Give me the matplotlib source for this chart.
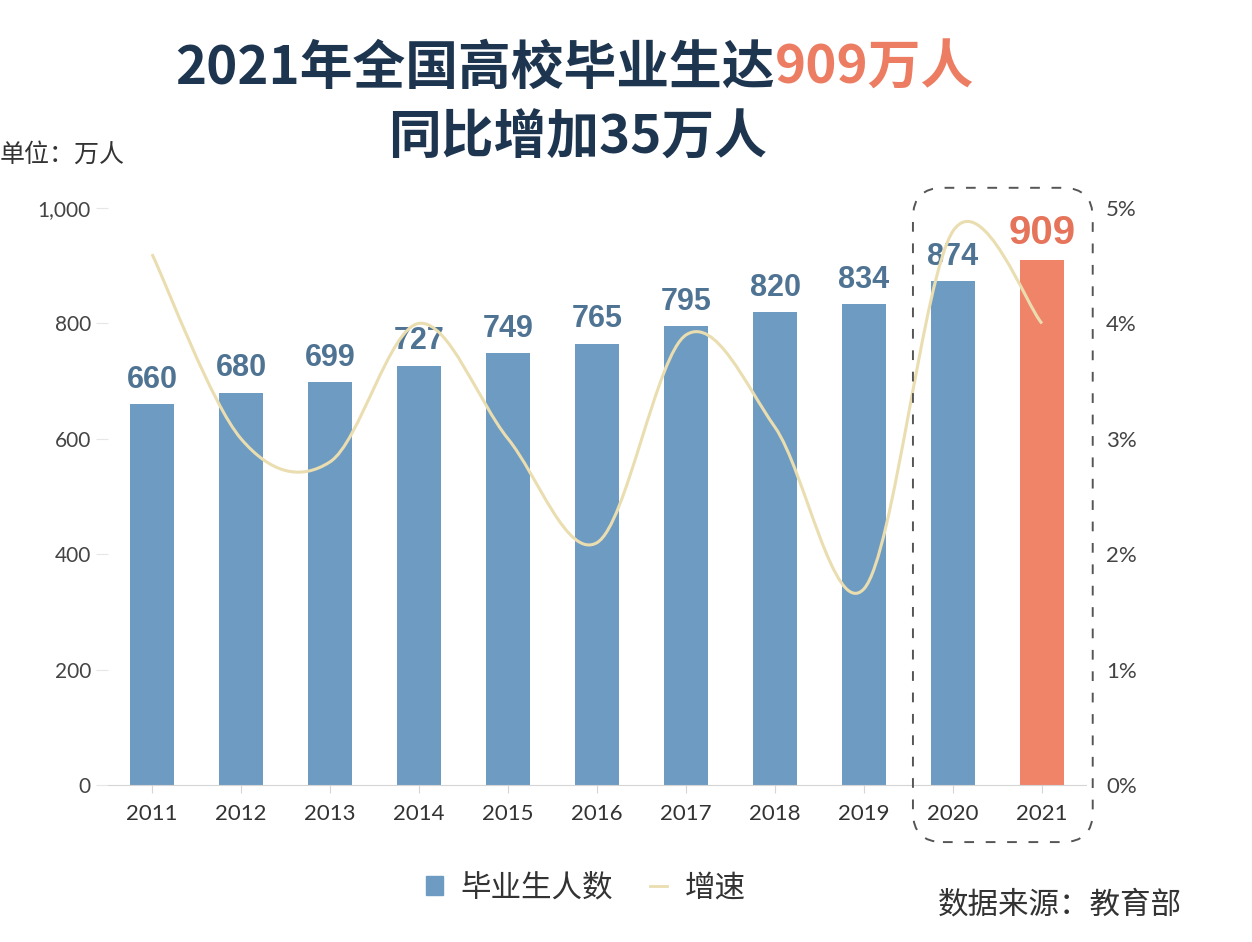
import numpy as np
import matplotlib.pyplot as plt
from matplotlib.path import Path
from matplotlib.patches import PathPatch, FancyBboxPatch, Patch
from matplotlib.lines import Line2D
from matplotlib.transforms import IdentityTransform

plt.rcParams['font.family'] = ['Noto Sans CJK SC', 'DejaVu Sans']

# data
years = ['2011', '2012', '2013', '2014', '2015', '2016', '2017', '2018', '2019', '2020', '2021']
graduates = [660, 680, 699, 727, 749, 765, 795, 820, 834, 874, 909]
growth = [4.6, 3.0, 2.8, 4.0, 3.0, 2.1, 3.9, 3.1, 1.7, 4.8, 4.0]
left_ticks = [0, 200, 400, 600, 800, 1000]
right_ticks = [0, 1, 2, 3, 4, 5]

navy = '#1E3550'
orange = '#EC7D62'
blue = '#6E9BC2'
line_col = '#EADDB0'

fig = plt.figure(figsize=(12.52, 9.42), dpi=100)
ax = fig.add_axes([0.0859, 0.1667, 0.7819, 0.6125])
x = np.arange(len(years))

colors = [blue] * (len(years) - 1) + ['#F08469']
ax.bar(x, graduates, width=0.5, color=colors, zorder=2)

for i, v in enumerate(graduates):
    if i == len(graduates) - 1:
        ax.text(i, v + 28, str(v), ha='center', va='baseline', fontsize=29,
                weight='bold', color='#E5745A', family='Liberation Sans')
    else:
        ax.text(i, v + 28, str(v), ha='center', va='baseline', fontsize=22,
                weight='bold', color='#4F7393', family='Liberation Sans')

ax.set_xlim(-0.5, 10.5)
ax.set_ylim(0, 1000)
for s in ['top', 'right', 'left']:
    ax.spines[s].set_visible(False)
ax.spines['bottom'].set_color('#D5D5D5')
ax.set_xticks(x)
ax.set_xticklabels(years, fontsize=16, family='Lato', color='#333333')
ax.tick_params(axis='x', length=6, color='#D5D5D5', pad=8)
ax.set_yticks(left_ticks)
ax.set_yticklabels(['{:,}'.format(t) for t in left_ticks], fontsize=15, family='Lato', color='#444444')
ax.tick_params(axis='y', length=9, color='#E6E6E6', pad=3)

# growth rate on the right axis, drawn as a smooth curve through the points
ax2 = ax.twinx()
ax2.set_ylim(0, 5)
for s in ['top', 'right', 'left', 'bottom']:
    ax2.spines[s].set_visible(False)
ax2.set_yticks(right_ticks)
ax2.set_yticklabels(['{}%'.format(t) for t in right_ticks], fontsize=16, family='Lato', color='#444444')
ax2.tick_params(axis='y', length=0, pad=14)

pts = np.column_stack([x, growth]).astype(float)
ext = np.vstack([pts[0], pts, pts[-1]])
verts = [tuple(pts[0])]
codes = [Path.MOVETO]
for i in range(len(pts) - 1):
    p0, p1, p2, p3 = ext[i], ext[i + 1], ext[i + 2], ext[i + 3]
    c1 = p1 + (p2 - p0) / 6.0
    c2 = p2 - (p3 - p1) / 6.0
    verts += [tuple(c1), tuple(c2), tuple(p2)]
    codes += [Path.CURVE4] * 3
ax2.add_patch(PathPatch(Path(verts, codes), facecolor='none', edgecolor=line_col, lw=2.2, zorder=3))

# titles
r = fig.canvas.get_renderer()
y1 = 1 - 68 / 942.0
t1 = fig.text(0, y1, '2021年全国高校毕业生达', fontsize=38, weight='bold', color=navy, va='center')
t2 = fig.text(0, y1, '909万人', fontsize=38, weight='bold', color=orange, va='center')
w1 = t1.get_window_extent(r).width
w2 = t2.get_window_extent(r).width
start = 575 - (w1 + w2) / 2.0
t1.set_x(start / 1252.0)
t2.set_x((start + w1) / 1252.0)
fig.text(577 / 1252.0, 1 - 138 / 942.0, '同比增加35万人', fontsize=38, weight='bold',
         color=navy, ha='center', va='center')

fig.text(0.0, 1 - 155 / 942.0, '单位：万人', fontsize=18, color='#333333', va='center')
fig.text(938 / 1252.0, 1 - 905 / 942.0, '数据来源：教育部', fontsize=22, color='#333333', va='center')

# dashed box around 2020 and 2021
fig.canvas.draw()
bx0, by0 = ax.transData.transform((8.55, -99))
bx1, by1 = ax.transData.transform((10.57, 1035))
box = FancyBboxPatch((bx0, by0), bx1 - bx0, by1 - by0,
                     boxstyle='round,pad=0,rounding_size=30', transform=IdentityTransform(),
                     fill=False, ec='#555555', lw=1.4, ls=(0, (5, 6)))
fig.add_artist(box)

handles = [Patch(color=blue), Line2D([], [], color=line_col, lw=2)]
fig.legend(handles, ['毕业生人数', '增速'], loc='center', bbox_to_anchor=(586 / 1252.0, 1 - 888 / 942.0),
           ncol=2, frameon=False, fontsize=22, handlelength=0.55, handleheight=0.55,
           columnspacing=1.2, handletextpad=0.6, labelcolor='#333333')

fig.savefig('out.png', dpi=100)
